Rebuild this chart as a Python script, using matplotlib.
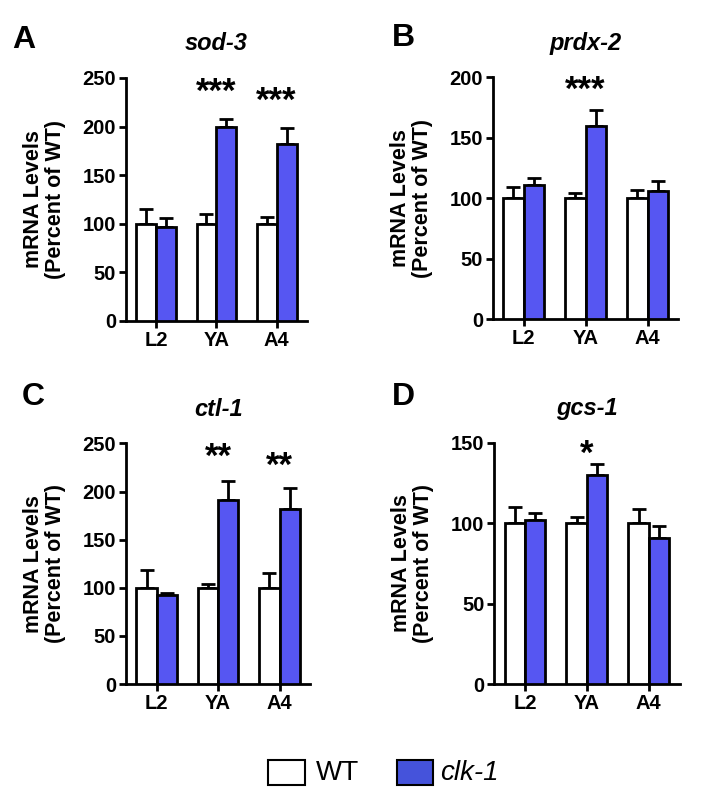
import matplotlib
matplotlib.use("Agg")
import matplotlib.pyplot as plt
from matplotlib.patches import Rectangle
import numpy as np

plt.rcParams['font.family'] = ['Liberation Sans', 'DejaVu Sans']

stages = ["L2", "YA", "A4"]
genes = ["sod-3", "prdx-2", "ctl-1", "gcs-1"]
letters = ["A", "B", "C", "D"]

wt_vals = {"sod-3": [100, 100, 100], "prdx-2": [100, 100, 100],
           "ctl-1": [100, 100, 100], "gcs-1": [100, 100, 100]}
wt_err = {"sod-3": [15, 10, 7], "prdx-2": [9, 4.5, 7],
          "ctl-1": [18, 3.5, 15], "gcs-1": [10, 3.5, 9]}
clk_vals = {"sod-3": [97, 200, 182], "prdx-2": [111, 160, 106],
            "ctl-1": [92, 191, 182], "gcs-1": [102, 130, 91]}
clk_err = {"sod-3": [9, 8, 17], "prdx-2": [6, 13, 8],
           "ctl-1": [3, 20, 22], "gcs-1": [4.5, 7, 7]}
stars = {"sod-3": ["", "***", "***"], "prdx-2": ["", "***", ""],
         "ctl-1": ["", "**", "**"], "gcs-1": ["", "*", ""]}
star_y = {"sod-3": [0, 235, 226], "prdx-2": [0, 189, 0],
          "ctl-1": [0, 236, 226], "gcs-1": [0, 143, 0]}
ymax = {"sod-3": 250, "prdx-2": 200, "ctl-1": 250, "gcs-1": 150}
ystep = {"sod-3": 50, "prdx-2": 50, "ctl-1": 50, "gcs-1": 50}

positions = {"sod-3": [0.1797, 0.5998, 0.258, 0.303],
             "prdx-2": [0.7029, 0.6022, 0.265, 0.3014],
             "ctl-1": [0.1797, 0.1471, 0.263, 0.300],
             "gcs-1": [0.7047, 0.1471, 0.265, 0.301]}
letter_xy = {"A": (12, 40), "B": (392, 38), "C": (22, 397), "D": (392, 397)}

blue = "#5656F2"
legend_blue = "#4553DB"

fig = plt.figure(figsize=(7.01, 8.02), dpi=100)

w = 0.33
for g, L in zip(genes, letters):
    ax = fig.add_axes(positions[g])
    x = np.arange(len(stages))
    ax.bar(x - w / 2, wt_vals[g], w, color="white", edgecolor="black",
           linewidth=2, zorder=3)
    ax.bar(x + w / 2, clk_vals[g], w, color=blue, edgecolor="black",
           linewidth=2, zorder=3)
    ax.errorbar(x - w / 2, wt_vals[g], yerr=[np.zeros(3), wt_err[g]],
                fmt="none", ecolor="black", elinewidth=2, capsize=5,
                capthick=2, zorder=2)
    ax.errorbar(x + w / 2, clk_vals[g], yerr=[np.zeros(3), clk_err[g]],
                fmt="none", ecolor="black", elinewidth=2, capsize=5,
                capthick=2, zorder=2)
    for i, s in enumerate(stars[g]):
        if s:
            ax.text(x[i], star_y[g][i], s, ha="center", va="center",
                    fontsize=25, fontweight="bold")
    ax.set_xlim(-0.5, 2.5)
    ax.set_ylim(0, ymax[g])
    ax.set_yticks(np.arange(0, ymax[g] + 1, ystep[g]))
    ax.set_xticks(x)
    ax.set_xticklabels(stages)
    for sp in ["top", "right"]:
        ax.spines[sp].set_visible(False)
    for sp in ["left", "bottom"]:
        ax.spines[sp].set_linewidth(2)
    ax.tick_params(axis="both", width=2, length=5, labelsize=14.5, pad=2)
    for lab in ax.get_xticklabels() + ax.get_yticklabels():
        lab.set_fontweight("bold")
    ax.set_ylabel("mRNA Levels\n(Percent of WT)", fontsize=15.5,
                  fontweight="bold", labelpad=12, linespacing=1.05)
    ax.set_title(g, fontsize=17, fontweight="bold", style="italic", pad=20)
    lx, ly = letter_xy[L]
    fig.text(lx / 701, 1 - ly / 802, L, fontsize=23,
             fontweight="bold", ha="left", va="center")

# legend
fig.patches.append(Rectangle((268 / 701, 1 - 785 / 802), 37 / 701, 25 / 802,
                             transform=fig.transFigure, facecolor="white",
                             edgecolor="black", linewidth=1.5))
fig.text(316 / 701, 1 - 773 / 802, "WT", fontsize=20, va="center", ha="left")
fig.patches.append(Rectangle((397 / 701, 1 - 785 / 802), 36 / 701, 25 / 802,
                             transform=fig.transFigure, facecolor=legend_blue,
                             edgecolor="black", linewidth=1.5))
fig.text(440 / 701, 1 - 773 / 802, "clk-1", fontsize=20, va="center",
         ha="left", style="italic")

fig.savefig("out.png", dpi=100)
